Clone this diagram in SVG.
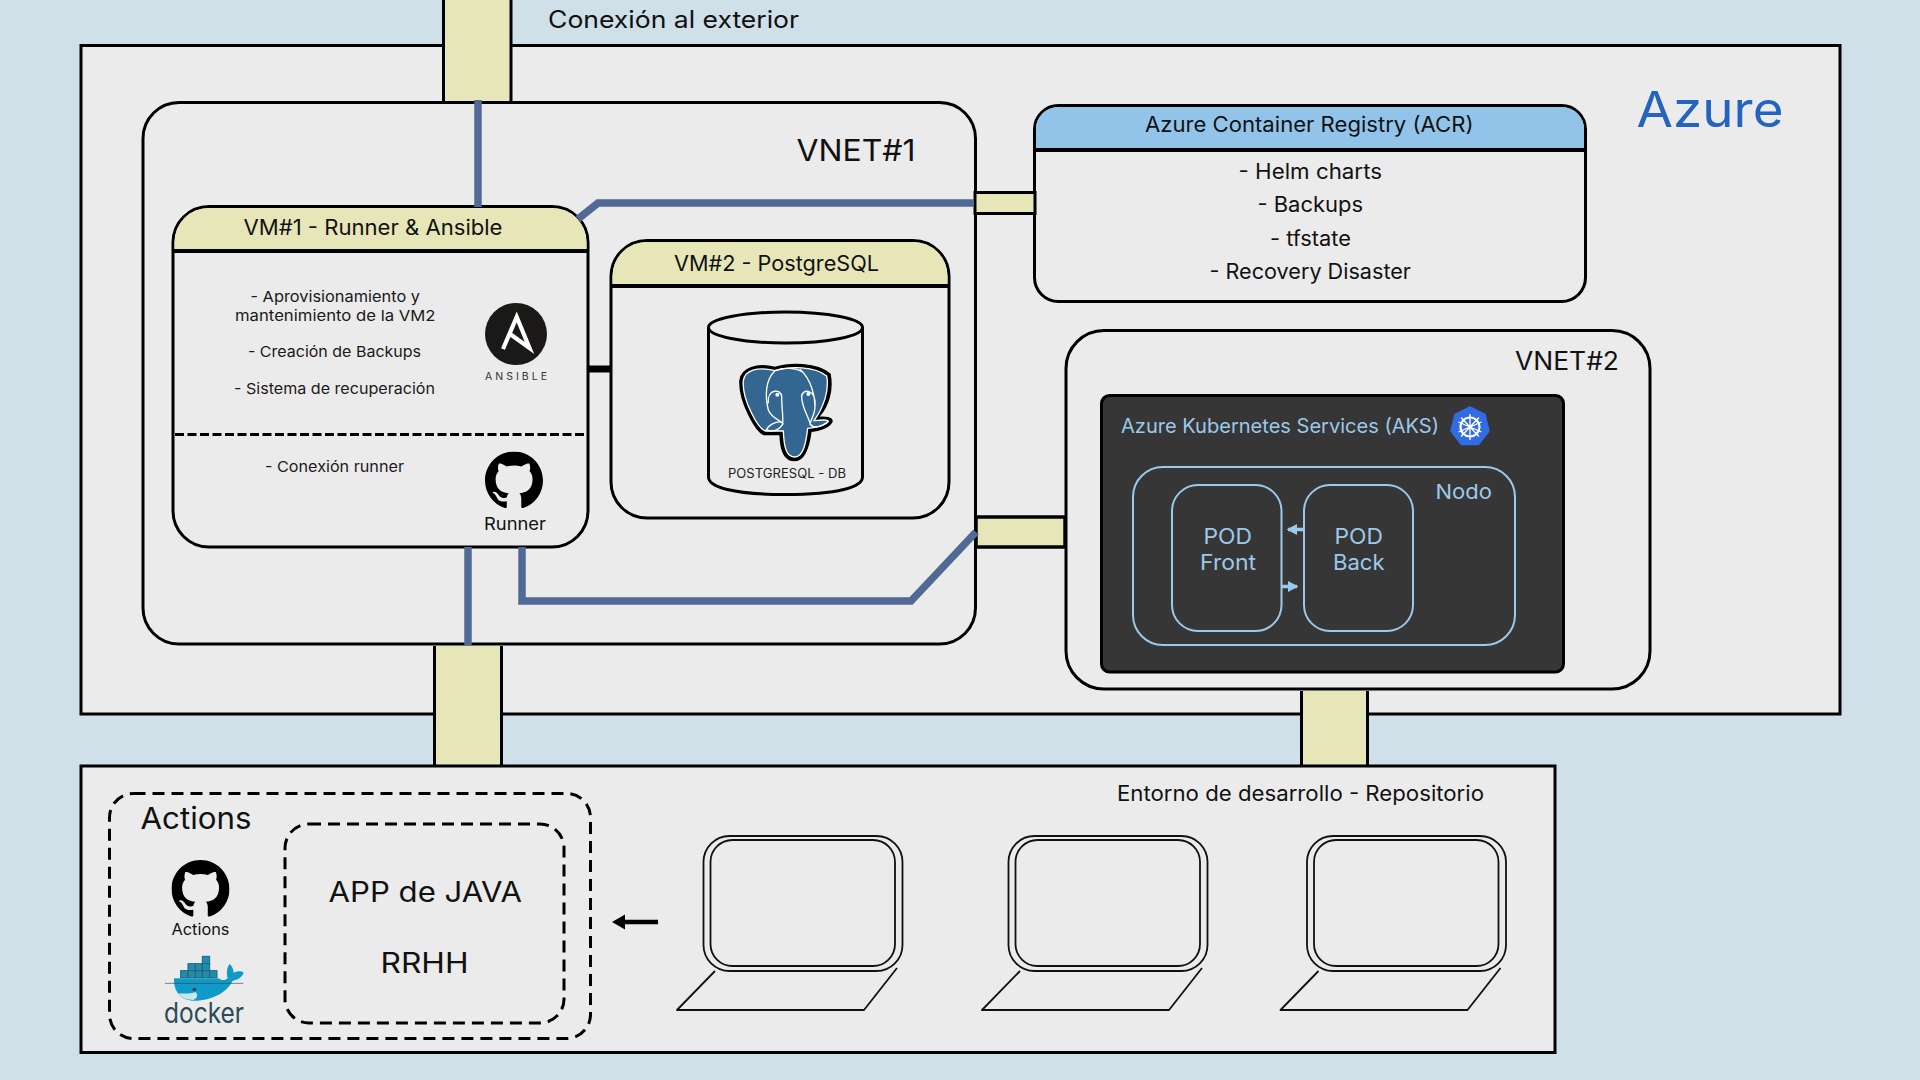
<svg xmlns="http://www.w3.org/2000/svg" xmlns:xlink="http://www.w3.org/1999/xlink" width="1920" height="1080" viewBox="0 0 1920 1080">
<style>
text{font-family:Inter,"Open Sans","Liberation Sans",sans-serif;fill:#111}
.box{fill:#ebebeb;stroke:#000;stroke-width:3}
.hdr{fill:#e6e6b8}
.line{fill:none;stroke:#000;stroke-width:3}
.pillar{fill:#e6e6b8;stroke:none}
.blue{fill:none;stroke:#506a95;stroke-width:7.500}
.dash{fill:none;stroke:#000;stroke-width:3;stroke-dasharray:12 7}
.ice{fill:none;stroke:#9cc9ea;stroke-width:2}
.lap{fill:none;stroke:#111;stroke-width:1.800;stroke-linejoin:round}
.s{font-size:15px;fill:#1a1a1a}
.h{font-size:21px}
.m{font-size:21px}
</style>
<defs>
<symbol id="gh" viewBox="0 0 16 16"><path fill="#000" d="M8 0C3.58 0 0 3.58 0 8c0 3.54 2.29 6.53 5.47 7.59.4.07.55-.17.55-.38 0-.19-.01-.82-.01-1.49-2.01.37-2.53-.49-2.69-.94-.09-.23-.48-.94-.82-1.13-.28-.15-.68-.52-.01-.53.63-.01 1.08.58 1.23.82.72 1.21 1.87.87 2.33.66.07-.52.28-.87.51-1.07-1.78-.2-3.64-.89-3.64-3.95 0-.87.31-1.59.82-2.15-.08-.2-.36-1.02.08-2.12 0 0 .67-.21 2.2.82.64-.18 1.32-.27 2-.27.68 0 1.36.09 2 .27 1.53-1.04 2.2-.82 2.2-.82.44 1.1.16 1.92.08 2.12.51.56.82 1.27.82 2.15 0 3.07-1.87 3.75-3.65 3.95.29.25.54.73.54 1.48 0 1.07-.01 1.93-.01 2.2 0 .21.15.46.55.38A8.013 8.013 0 0016 8c0-4.42-3.58-8-8-8z"/></symbol>
<g id="laptop">
<rect class="lap" x="703.500" y="836" width="199" height="135" rx="26"/>
<rect class="lap" x="710.500" y="840" width="184.500" height="126" rx="22"/>
<path class="lap" d="M715,971L677,1010H864L897,968"/>
</g>
<marker id="ah" markerWidth="4" markerHeight="4" refX="2.600" refY="2" orient="auto"><path d="M0,0.400L3,2L0,3.600Z" fill="#9cc9ea"/></marker>
</defs>
<rect width="1920" height="1080" fill="#cfe0e8"/>
<text x="548" y="28" font-size="24" textLength="251" lengthAdjust="spacingAndGlyphs">Conexión al exterior</text>

<g id="azure"><rect class="box" x="81" y="45.500" width="1759" height="668.500"/>
<text x="1636.500" y="127" font-size="49" style="fill:#2563c0" textLength="147" lengthAdjust="spacingAndGlyphs">Azure</text></g>
<g id="dev-env"><rect class="box" x="81" y="766" width="1474" height="286.500"/>
<text x="1117" y="801" class="m" textLength="367" lengthAdjust="spacingAndGlyphs">Entorno de desarrollo - Repositorio</text></g>

<g id="vnet1"><rect class="box" x="143" y="102.500" width="832.500" height="541.500" rx="36"/>
<text x="796.500" y="161" font-size="30" textLength="119" lengthAdjust="spacingAndGlyphs">VNET#1</text></g>

<g id="vm1">
<rect class="box" x="173" y="206.500" width="415" height="340.500" rx="36"/>
<path class="hdr" d="M174.500,250V242A34,34 0 0 1 208.500,208H552.500A34,34 0 0 1 586.500,242V250Z"/>
<path class="line" d="M173,251H588" style="stroke-width:4"/>
<path class="dash" d="M175,434.500H587" style="stroke-dasharray:9 3.500"/>
<text x="243.500" y="235" class="h" textLength="259" lengthAdjust="spacingAndGlyphs">VM#1 - Runner &amp; Ansible</text>
<text x="250.500" y="302" class="s" textLength="169.500" lengthAdjust="spacingAndGlyphs">- Aprovisionamiento y</text>
<text x="235" y="321" class="s" textLength="200.500" lengthAdjust="spacingAndGlyphs">mantenimiento de la VM2</text>
<text x="248" y="357" class="s" textLength="173" lengthAdjust="spacingAndGlyphs">- Creación de Backups</text>
<text x="234" y="394" class="s" textLength="201" lengthAdjust="spacingAndGlyphs">- Sistema de recuperación</text>
<text x="265" y="472" class="s" textLength="139" lengthAdjust="spacingAndGlyphs">- Conexión runner</text>
<g id="ansible-logo">
<circle cx="516" cy="334" r="31" fill="#1a1918"/>
<path d="M503,349L516.700,317L529.500,348L510,334" fill="none" stroke="#fff" stroke-width="4.200"/>
<text x="485" y="380" font-size="10.500" style="fill:#333" textLength="62">ANSIBLE</text>
</g>
<use xlink:href="#gh" href="#gh" x="485" y="451.500" width="58" height="58"/>
<text x="484" y="529.500" font-size="17" textLength="62" lengthAdjust="spacingAndGlyphs">Runner</text>
</g>

<g id="vm2">
<rect class="box" x="611" y="240.500" width="338" height="277.500" rx="36"/>
<path class="hdr" d="M612.500,285V276A34,34 0 0 1 646.500,242H913.500A34,34 0 0 1 947.500,276V285Z"/>
<path class="line" d="M611,286H949" style="stroke-width:4"/>
<text x="674" y="270.500" class="h" textLength="205" lengthAdjust="spacingAndGlyphs">VM#2 - PostgreSQL</text>
<g id="db">
<path class="line" d="M708.500,327V477C708.500,487 733,494.500 785.500,494.500C838,494.500 862.500,487 862.500,477V327"/>
<ellipse class="line" cx="785.500" cy="327.500" rx="77" ry="15.500"/>
<g transform="translate(700,300) scale(.33333)">
<path d="M120,240C125,205 170,188 225,202C270,188 350,188 390,222C400,270 385,320 355,352C375,350 398,352 396,365C388,382 352,394 333,394C328,432 318,480 285,482C252,482 242,452 240,404L193,404C168,398 115,300 120,240Z" fill="#000" stroke="#000" stroke-width="4" stroke-linejoin="round"/>
<path d="M130,242C134,212 172,198 225,212C270,198 345,198 380,228C388,270 372,320 342,362C362,360 385,358 385,364C378,375 345,384 323,385C318,428 310,470 285,471C260,471 252,445 250,393L197,393C175,388 125,298 130,242Z" fill="#336791" stroke="#fff" stroke-width="4"/>
<path d="M225,212C195,240 195,290 205,330C215,355 240,360 248,370C250,350 245,320 245,290C245,265 200,265 205,310M300,208C335,240 345,290 345,320C345,340 335,355 330,370C325,350 305,320 305,290C305,265 350,265 345,320M225,212C255,200 290,205 305,215M197,393C205,375 230,360 248,368M250,370C235,395 215,395 200,390M330,372C340,385 360,385 385,364" fill="none" stroke="#fff" stroke-width="4"/>
<circle cx="232" cy="284" r="6" fill="#fff"/><circle cx="325" cy="282" r="6" fill="#fff"/>
</g>
<text x="728" y="478" font-size="12.500" style="fill:#222" textLength="118" lengthAdjust="spacingAndGlyphs">POSTGRESQL - DB</text>
</g>
</g>

<g id="acr">
<rect class="box" x="1034.500" y="105.500" width="551" height="196" rx="24"/>
<path d="M1036,149V129A22,22 0 0 1 1058,107H1562A22,22 0 0 1 1584,129V149Z" fill="#92c4ea"/>
<path class="line" d="M1034,150H1586" style="stroke-width:4"/>
<text x="1145" y="132" class="h" textLength="328.500" lengthAdjust="spacingAndGlyphs">Azure Container Registry (ACR)</text>
<text x="1238.500" y="179" class="m" textLength="143.500" lengthAdjust="spacingAndGlyphs">- Helm charts</text>
<text x="1257.500" y="212" class="m" textLength="105.500" lengthAdjust="spacingAndGlyphs">- Backups</text>
<text x="1270" y="246" class="m" textLength="81" lengthAdjust="spacingAndGlyphs">- tfstate</text>
<text x="1209.500" y="279" class="m" textLength="201.500" lengthAdjust="spacingAndGlyphs">- Recovery Disaster</text>
</g>

<g id="vnet2">
<rect class="box" x="1066" y="330.500" width="584" height="358.500" rx="38"/>
<text x="1515" y="369.500" font-size="25" textLength="104" lengthAdjust="spacingAndGlyphs">VNET#2</text>
</g>

<g id="aks">
<rect x="1101.500" y="395.500" width="462" height="276.500" rx="8" fill="#363636" stroke="#000" stroke-width="3"/>
<text x="1121" y="432.500" font-size="19.500" style="fill:#9cc9ea" textLength="318" lengthAdjust="spacingAndGlyphs">Azure Kubernetes Services (AKS)</text>
<g id="k8s-logo">
<path d="M1470,407L1485,414.500L1489,431L1478.500,444.500H1461.500L1451,431L1455,414.500Z" fill="#326ce5" stroke="#326ce5" stroke-width="1.500" stroke-linejoin="round"/>
<circle cx="1470" cy="427" r="9.500" fill="none" stroke="#fff" stroke-width="2.200"/>
<circle cx="1470" cy="427" r="2" fill="#fff"/>
<path d="M1470,414V440M1458.500,422L1481.500,432M1481.500,422L1458.500,432M1461,436.500L1479,417.500M1479,436.500L1461,417.500" stroke="#fff" stroke-width="1.300" fill="none"/>
</g>
</g>
<g id="nodo"><rect class="ice" x="1133" y="467" width="382" height="178" rx="30"/>
<text x="1435.500" y="499" font-size="20.500" style="fill:#9cc9ea" textLength="56.500" lengthAdjust="spacingAndGlyphs">Nodo</text></g>
<g id="pod-front"><rect class="ice" x="1172" y="485" width="109.500" height="146" rx="26"/>
<text x="1203.500" y="544" font-size="21.500" style="fill:#9cc9ea" textLength="48.500" lengthAdjust="spacingAndGlyphs">POD</text>
<text x="1200" y="570" font-size="21.500" style="fill:#9cc9ea" textLength="56" lengthAdjust="spacingAndGlyphs">Front</text></g>
<g id="pod-back"><rect class="ice" x="1304" y="485" width="109" height="146" rx="26"/>
<text x="1334.500" y="544" font-size="21.500" style="fill:#9cc9ea" textLength="48.500" lengthAdjust="spacingAndGlyphs">POD</text>
<text x="1333" y="570" font-size="21.500" style="fill:#9cc9ea" textLength="51.500" lengthAdjust="spacingAndGlyphs">Back</text></g>

<g id="actions">
<rect class="dash" x="109.500" y="793.500" width="481" height="245" rx="24"/>
<text x="140.500" y="829" font-size="30" textLength="111" lengthAdjust="spacingAndGlyphs">Actions</text>
<use xlink:href="#gh" href="#gh" x="171.500" y="860" width="58" height="58"/>
<text x="171.500" y="934.500" font-size="16" textLength="58" lengthAdjust="spacingAndGlyphs">Actions</text>
<g id="docker-logo" transform="translate(150,850) scale(.33333)">
<g fill="#2a8aa6" stroke="#106a85" stroke-width="3">
<rect x="157" y="319" width="22" height="22"/>
<rect x="114" y="341" width="22" height="21"/><rect x="136" y="341" width="21" height="21"/><rect x="157" y="341" width="22" height="21"/>
<rect x="92" y="362" width="22" height="21"/><rect x="114" y="362" width="22" height="21"/><rect x="136" y="362" width="21" height="21"/><rect x="157" y="362" width="22" height="21"/><rect x="179" y="362" width="22" height="21"/>
</g>
<path d="M72,385H205C215,392 225,392 233,385C228,365 232,350 239,342C248,350 250,360 251,368C262,362 275,362 281,368C275,385 258,390 248,392C230,430 180,452 130,452C90,452 70,420 72,385Z" fill="#0f9ac9"/>
<path d="M85,430C105,432 125,430 137,426C145,436 142,445 130,450C110,450 95,445 85,430Z" fill="#c9e6e8"/>
<path d="M45,400H280" stroke="#3a4a50" stroke-width="2" fill="none"/>
<circle cx="133" cy="418" r="5" fill="#123"/><circle cx="132" cy="417" r="1.500" fill="#fff"/>
</g>
<text x="164" y="1023" font-size="28" style="fill:#2b4a55" textLength="80" lengthAdjust="spacingAndGlyphs">docker</text>
</g>
<g id="app-java">
<rect class="dash" x="285" y="824" width="279" height="199" rx="24"/>
<text x="328.500" y="902" font-size="28" textLength="193.500" lengthAdjust="spacingAndGlyphs">APP de JAVA</text>
<text x="380.500" y="972.500" font-size="28" textLength="88" lengthAdjust="spacingAndGlyphs">RRHH</text>
</g>

<g id="laptop-1"><use xlink:href="#laptop" href="#laptop"/></g>
<g id="laptop-2"><use xlink:href="#laptop" href="#laptop" x="305"/></g>
<g id="laptop-3"><use xlink:href="#laptop" href="#laptop" x="603.500"/></g>

<g id="connectors">
<rect class="pillar" x="443.500" y="0" width="67.500" height="100.500"/>
<path class="line" d="M443.500,0V101M511,0V101"/>
<rect class="pillar" x="434.500" y="646" width="67" height="118"/>
<path class="line" d="M434.500,646V765M501.500,646V765"/>
<rect class="pillar" x="1301.500" y="691" width="66" height="73"/>
<path class="line" d="M1301.500,691V765M1367.500,691V765"/>
<rect x="975" y="192.500" width="60" height="21" fill="#e6e6b8" stroke="#000" stroke-width="3"/>
<rect x="976" y="517" width="89" height="30" fill="#e6e6b8" stroke="#000" stroke-width="3.500"/>
<path d="M588,369H611" stroke="#000" stroke-width="7" fill="none"/>
<path class="blue" d="M478,100V207"/>
<path class="blue" d="M578,219L598,203H974"/>
<path class="blue" d="M522,547V601H911L976,532"/>
<path class="blue" d="M468,547V645"/>
<path d="M1304,529.500H1288" stroke="#9cc9ea" stroke-width="3.500" fill="none" marker-end="url(#ah)"/>
<path d="M1281.500,586.500H1297" stroke="#9cc9ea" stroke-width="3.500" fill="none" marker-end="url(#ah)"/>
<path d="M658,922H620" stroke="#000" stroke-width="4.500" fill="none"/>
<path d="M612,922L625,914.500V929.500Z" fill="#000"/>
</g>
</svg>
